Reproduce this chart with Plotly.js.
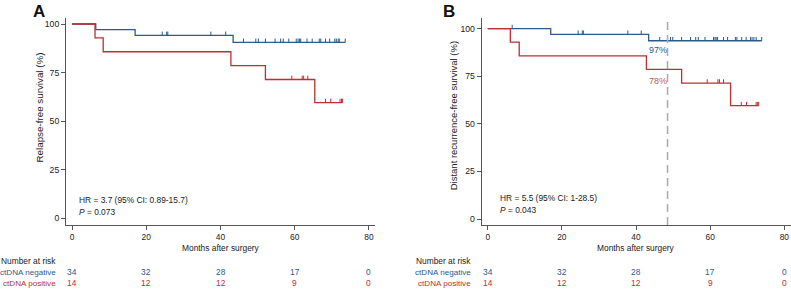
<!DOCTYPE html>
<html>
<head>
<meta charset="utf-8">
<script src="https://cdn.plot.ly/plotly-3.0.1.min.js"></script>
<style>html,body{margin:0;padding:0;background:#fff;}#chart{width:791px;height:290px;}</style>
</head>
<body>
<div id="chart"></div>
<script>
// ---------- DATA ----------
// Panel A: relapse-free survival
const aNegTimes = [0, 6.4, 17.0, 43.4, 73.6];
const aNegSurv  = [100, 97.1, 94.1, 90.5, 90.5];
const aNegCensor = [24.3, 25.5, 25.8, 37.4, 41.4, 46.2, 49.5, 50.2, 52.1, 54.7, 56.2, 56.9, 58.4,
                    60.4, 60.9, 61.3, 61.6, 63.3, 64.7, 66.6, 67.0, 68.3, 69.4, 70.8, 71.2, 71.7, 72.0, 73.6];
const aPosTimes = [0, 6.2, 8.4, 42.8, 52.1, 65.4, 72.9];
const aPosSurv  = [100, 92.9, 85.7, 78.6, 71.4, 59.5, 59.5];
const aPosCensor = [59.2, 62.0, 62.4, 63.5, 68.3, 69.7, 72.2, 72.6, 72.9];

// Panel B: distant recurrence-free survival
const bNegTimes = [0, 17.0, 43.4, 73.9];
const bNegSurv  = [100, 97.0, 93.6, 93.6];
const bNegCensor = [6.6, 24.4, 25.5, 25.8, 37.8, 41.4, 46.4, 49.3, 49.9, 52.3, 54.7, 56.1, 56.8, 58.6,
                    60.9, 61.3, 61.6, 62.0, 63.6, 64.7, 66.8, 67.2, 68.5, 69.7, 70.9, 71.3, 71.8, 72.4, 73.9];
const bPosTimes = [0, 6.1, 8.5, 42.8, 52.3, 65.5, 73.1];
const bPosSurv  = [100, 92.9, 85.7, 78.6, 71.4, 59.5, 59.5];
const bPosCensor = [59.2, 62.1, 62.5, 63.6, 68.4, 69.8, 72.4, 72.8, 73.1];

const landmarkMonth = 48.5;
const landmarkNeg = "97%";
const landmarkPos = "78%";

const xTicks = [0, 20, 40, 60, 80];
const yTicks = [0, 25, 50, 75, 100];

const riskTimes = [0, 20, 40, 60, 80];
const riskNeg = [34, 32, 28, 17, 0];
const riskPos = [14, 12, 12, 9, 0];
const groupNames = ["ctDNA negative", "ctDNA positive"];

const statsA = ["HR = 3.7 (95% CI: 0.89-15.7)", "0.073"];
const statsB = ["HR = 5.5 (95% CI: 1-28.5)", "0.043"];

// ---------- STYLE ----------
const W = 791, H = 290;
const BLUE = "#2b5a8c", RED = "#bf2e33";
const BLUE_T = "#2d5b8a", RED_T = "#b8312f", RED_L = "#c45a57";
const FONT = "'Liberation Sans', Arial, sans-serif";
const FS = 8.4;
const TXT = "#222";
const px = x => x / W;
const py = y => 1 - y / H;

function stepAt(times, surv, t) {
  let v = surv[0];
  for (let i = 0; i < times.length; i++) { if (times[i] <= t) v = surv[i]; }
  return v;
}

function curve(times, surv, color, xa, ya) {
  return { x: times, y: surv, type: "scatter", mode: "lines", line: { shape: "hv", color: color, width: 1.3 },
           xaxis: xa, yaxis: ya, hoverinfo: "skip" };
}
function censor(cTimes, times, surv, color, xa, ya) {
  return { x: cTimes, y: cTimes.map(t => stepAt(times, surv, t)), type: "scatter", mode: "markers",
           marker: { size: 1, opacity: 0, color: color },
           error_y: { type: "data", symmetric: false, array: cTimes.map(() => 2), arrayminus: cTimes.map(() => 0),
                      width: 0, thickness: 1, color: color },
           xaxis: xa, yaxis: ya, hoverinfo: "skip" };
}

const data = [
  curve(aNegTimes, aNegSurv, BLUE, "x", "y"),
  curve(aPosTimes, aPosSurv, RED, "x", "y"),
  censor(aNegCensor, aNegTimes, aNegSurv, BLUE, "x", "y"),
  censor(aPosCensor, aPosTimes, aPosSurv, RED, "x", "y"),
  curve(bNegTimes, bNegSurv, BLUE, "x2", "y2"),
  curve(bPosTimes, bPosSurv, RED, "x2", "y2"),
  censor(bNegCensor, bNegTimes, bNegSurv, BLUE, "x2", "y2"),
  censor(bPosCensor, bPosTimes, bPosSurv, RED, "x2", "y2"),
];

function xAxis(domain, range, anchor) {
  return { domain: domain, range: range, anchor: anchor, showline: true, linecolor: "#555", linewidth: 1,
           ticks: "outside", ticklen: 4, tickcolor: "#555", tickvals: xTicks, showgrid: false, zeroline: false,
           tickfont: { family: FONT, size: FS, color: TXT }, fixedrange: true };
}
function yAxis(domain, range, anchor) {
  return { domain: domain, range: range, anchor: anchor, showline: true, linecolor: "#555", linewidth: 1,
           ticks: "outside", ticklen: 4, tickcolor: "#555", tickvals: yTicks, showgrid: false, zeroline: false,
           tickfont: { family: FONT, size: FS + 0.3, color: TXT }, fixedrange: true };
}

const ann = [];
function txt(x, y, text, opts) {
  ann.push(Object.assign({ xref: "paper", yref: "paper", x: px(x), y: py(y), text: text, showarrow: false,
    font: { family: FONT, size: FS, color: TXT }, xanchor: "center", yanchor: "middle" }, opts || {}));
}

// panel letters
txt(39, 12, "<b>A</b>", { font: { family: FONT, size: 17, color: "#111" } });
txt(449, 12, "<b>B</b>", { font: { family: FONT, size: 17, color: "#111" } });
// y titles
txt(39, 107.5, "Relapse-free survival (%)", { textangle: -90, font: { family: FONT, size: 9.8, color: TXT } });
txt(453.3, 116, "Distant recurrence-free survival (%)", { textangle: -90, font: { family: FONT, size: 9.5, color: TXT } });
// x titles
ann.push({ xref: "x", yref: "paper", x: 40, y: py(248), text: "Months after surgery", showarrow: false,
           font: { family: FONT, size: FS, color: TXT }, xanchor: "center", yanchor: "middle" });
ann.push({ xref: "x2", yref: "paper", x: 40, y: py(248), text: "Months after surgery", showarrow: false,
           font: { family: FONT, size: FS, color: TXT }, xanchor: "center", yanchor: "middle" });
// stats
txt(77, 200, statsA[0], { xanchor: "left" });
txt(77, 211.7, "<i>P</i> = " + statsA[1], { xanchor: "left" });
txt(497.7, 197.5, statsB[0], { xanchor: "left" });
txt(497.7, 210, "<i>P</i> = " + statsB[1], { xanchor: "left" });
// landmark labels
ann.push({ xref: "x2", yref: "paper", x: landmarkMonth - 2.6, y: py(50), text: landmarkNeg, showarrow: false,
           font: { family: FONT, size: FS + 0.6, color: BLUE_T }, xanchor: "center", yanchor: "middle" });
ann.push({ xref: "x2", yref: "paper", x: landmarkMonth - 2.6, y: py(81.3), text: landmarkPos, showarrow: false,
           font: { family: FONT, size: FS + 0.6, color: RED_L }, xanchor: "center", yanchor: "middle" });
// number at risk tables
[["x", 57.5], ["x2", 473]].forEach(([xr, rx]) => {
  txt(rx, 260.5, "Number at risk", { xanchor: "right" });
  txt(rx, 272.3, groupNames[0], { xanchor: "right", font: { family: FONT, size: 8.1, color: BLUE_T } });
  txt(rx, 283.3, groupNames[1], { xanchor: "right", font: { family: FONT, size: 8.1, color: RED_T } });
  riskTimes.forEach((t, i) => {
    ann.push({ xref: xr, yref: "paper", x: t, y: py(272.3), text: String(riskNeg[i]), showarrow: false,
               font: { family: FONT, size: FS, color: BLUE_T }, xanchor: "center", yanchor: "middle" });
    ann.push({ xref: xr, yref: "paper", x: t, y: py(283.3), text: String(riskPos[i]), showarrow: false,
               font: { family: FONT, size: FS, color: RED_T }, xanchor: "center", yanchor: "middle" });
  });
});

const layout = {
  width: W, height: H, margin: { l: 0, r: 0, t: 0, b: 0 }, paper_bgcolor: "#fff", plot_bgcolor: "rgba(0,0,0,0)",
  showlegend: false,
  xaxis:  xAxis([px(66), px(375)], [-1.62, 81.62], "y"),
  yaxis:  yAxis([py(225), py(18)], [-3.6, 103.1], "x"),
  xaxis2: xAxis([px(481.7), 1], [-1.62, 81.8], "y2"),
  yaxis2: yAxis([py(225), py(18.3)], [-3.15, 105.4], "x2"),
  shapes: [{ type: "line", xref: "x2", yref: "paper", x0: landmarkMonth, x1: landmarkMonth, y0: py(225), y1: py(20),
             line: { color: "#aaaaaa", width: 1.5, dash: "8px,5px" } }],
  annotations: ann
};

Plotly.newPlot("chart", data, layout, { staticPlot: true, displayModeBar: false });
</script>
</body>
</html>
